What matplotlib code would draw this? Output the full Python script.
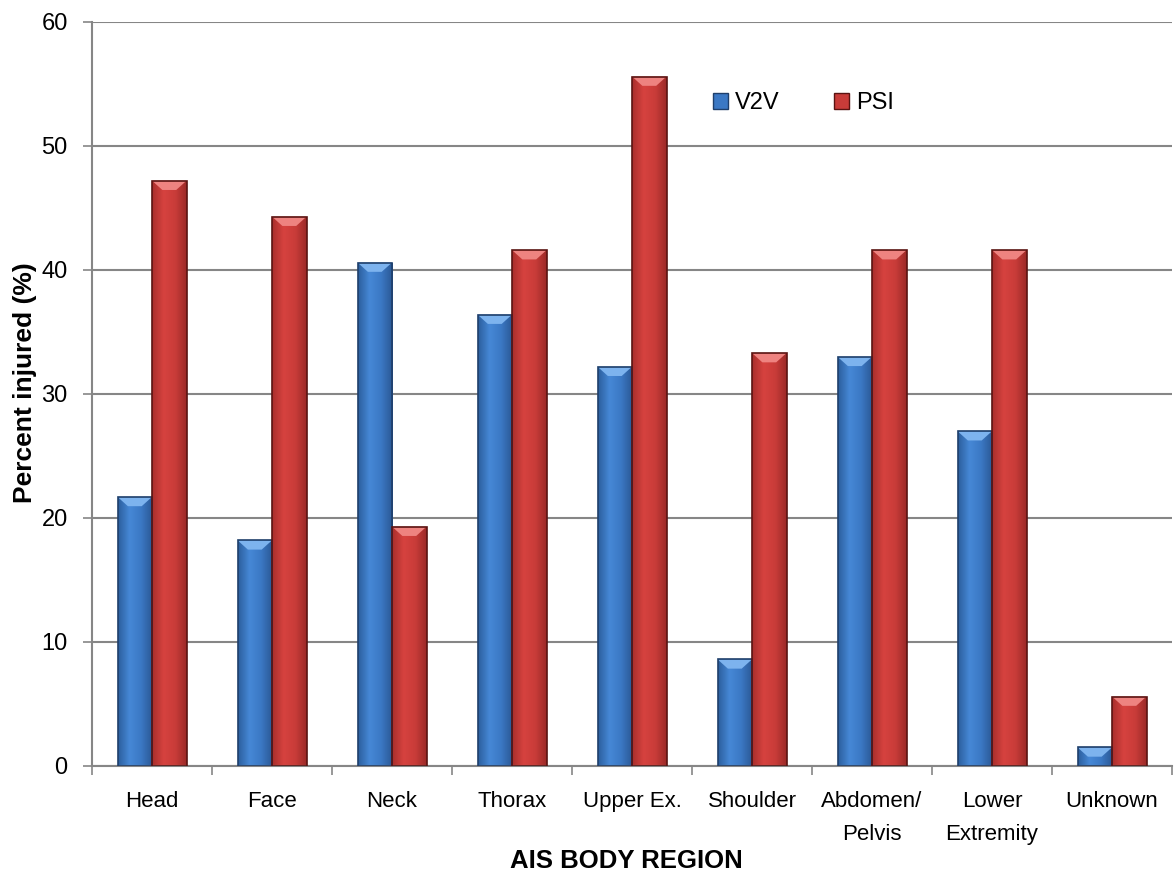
import matplotlib.pyplot as plt
import matplotlib.colors as mcolors
from matplotlib.patches import Polygon, Patch
import numpy as np

regions = ['Head', 'Face', 'Neck', 'Thorax', 'Upper Ex.', 'Shoulder',
           'Abdomen/\nPelvis', 'Lower\nExtremity', 'Unknown']
v2v = [21.7, 18.2, 40.6, 36.4, 32.2, 8.6, 33.0, 27.0, 1.5]
psi = [47.2, 44.3, 19.3, 41.6, 55.6, 33.3, 41.6, 41.6, 5.6]

plt.rcParams['font.family'] = ['Liberation Sans', 'DejaVu Sans']

fig = plt.figure(figsize=(11.74, 8.75), dpi=100)
ax = fig.add_axes([0.0784, 0.1246, 0.9199, 0.8503])

x = np.arange(len(regions))
w = 0.2875

# gradient colours (edge -> centre -> edge), like the Excel bevel look
blue_grad = mcolors.LinearSegmentedColormap.from_list(
    'b', ['#2c5f9e', '#4688d6', '#3b78c4', '#2a5894'])
red_grad = mcolors.LinearSegmentedColormap.from_list(
    'r', ['#a92f2c', '#d6423f', '#c93c39', '#9c2a28'])


def draw_bars(xs, vals, cmap, edge, top):
    bars = ax.bar(xs, vals, w, color='none', edgecolor=edge, linewidth=1.2, zorder=3)
    grad = np.linspace(0, 1, 64).reshape(1, -1)
    for b in bars:
        x0, x1 = b.get_x(), b.get_x() + b.get_width()
        h = b.get_height()
        im = ax.imshow(grad, extent=[x0, x1, 0, h], aspect='auto', cmap=cmap,
                       origin='lower', zorder=2)
        im.set_clip_path(b)
        # light bevel on the top edge
        dy = min(0.75, h * 0.5)
        dx = b.get_width() * 0.3
        ax.add_patch(Polygon([[x0, h], [x1, h], [x1 - dx, h - dy], [x0 + dx, h - dy]],
                             closed=True, facecolor=top, edgecolor='none', zorder=2.5))
    return bars


b1 = draw_bars(x - w / 2, v2v, blue_grad, '#1f3f6b', '#7db3ee')
b2 = draw_bars(x + w / 2, psi, red_grad, '#5a1412', '#ee8380')

ax.set_xlim(-0.5, len(regions) - 0.5)
ax.set_ylim(0, 60)
ax.set_yticks(np.arange(0, 61, 10))
ax.set_xticks(np.arange(-0.5, len(regions), 1))
ax.set_xticklabels([])
ax.set_xticks(x, minor=True)
ax.set_xticklabels(regions, minor=True, fontsize=16, linespacing=1.75)
ax.tick_params(axis='x', which='minor', length=0, pad=18)
ax.tick_params(axis='x', which='major', length=6.5, width=1.2, color='#868686')
ax.tick_params(axis='y', length=6.5, width=1.2, color='#868686', labelsize=17, pad=11)

ax.grid(axis='y', color='#868686', linewidth=1.5, zorder=0)
ax.set_axisbelow(True)
for s in ['top', 'right']:
    ax.spines[s].set_visible(False)
for s in ['left', 'bottom']:
    ax.spines[s].set_color('#868686')
    ax.spines[s].set_linewidth(1.5)

ax.set_ylabel('Percent injured (%)', fontsize=19, fontweight='bold')
ax.set_xlabel('AIS BODY REGION', fontsize=18.5, fontweight='bold')
ax.yaxis.set_label_coords(-0.051, 0.515)
ax.xaxis.set_label_coords(0.495, -0.111)

handles = [Patch(facecolor='#3b78c4', edgecolor='#1f3f6b'),
           Patch(facecolor='#c93c39', edgecolor='#5a1412')]
ax.legend(handles, ['V2V', 'PSI'], ncol=2, frameon=False, fontsize=17,
          loc='center left', bbox_to_anchor=(0.555, 0.891),
          handlelength=0.65, handleheight=0.65, handletextpad=0.3, columnspacing=2.3)

fig.savefig('out.png', dpi=100)
